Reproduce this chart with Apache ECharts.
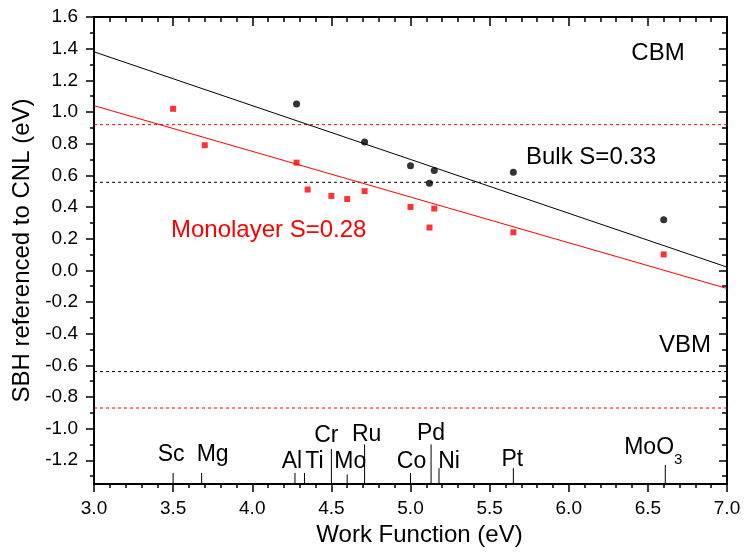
<!DOCTYPE html>
<html>
<head>
<meta charset="utf-8">
<script src="https://cdn.jsdelivr.net/npm/echarts@6/dist/echarts.min.js"></script>
<style>
  html, body { margin: 0; padding: 0; background: #fff; }
  #chart { width: 747px; height: 554px; }
</style>
</head>
<body>
<div id="chart"></div>
<script>
// Schottky barrier heights (eV, referenced to CNL) versus metal work function (eV)
const bulkWF  = [4.28, 4.71, 5.00, 5.12, 5.15, 5.65, 6.60];
const bulkSBH = [1.05, 0.81, 0.66, 0.55, 0.63, 0.62, 0.32];
const monoWF  = [3.50, 3.70, 4.28, 4.35, 4.50, 4.60, 4.71, 5.00, 5.12, 5.15, 5.65, 6.60];
const monoSBH = [1.02, 0.79, 0.68, 0.51, 0.47, 0.45, 0.50, 0.40, 0.27, 0.39, 0.24, 0.10];

// Linear fits, evaluated at both ends of the work-function axis
const fitWF   = [3.0, 7.0];
const bulkFit = [1.38, 0.02];
const monoFit = [1.04, -0.115];

// Band edges (CBM, VBM) relative to CNL
const bulkBands = [0.556, -0.64];
const monoBands = [0.92, -0.87];

// Contact metals marked along the work-function axis
const metalNames   = ['Sc', 'Mg', 'Al', 'Ti', 'Cr', 'Mo', 'Ru', 'Co', 'Pd', 'Ni', 'Pt', 'MoO3'];
const metalWF      = [3.50, 3.68, 4.27, 4.33, 4.50, 4.60, 4.71, 5.00, 5.13, 5.18, 5.65, 6.61];
const metalDropTop = [-1.28, -1.28, -1.28, -1.28, -1.13, -1.29, -1.10, -1.28, -1.10, -1.25, -1.25, -1.23];

// Axis ranges and tick values
const xMin = 3.0, xMax = 7.0, xStep = 0.5;
const yMin = -1.35, yMax = 1.6;
const yMajor = [-1.2, -1.0, -0.8, -0.6, -0.4, -0.2, 0.0, 0.2, 0.4, 0.6, 0.8, 1.0, 1.2, 1.4, 1.6];
const yMinor = [-1.3, -1.1, -0.9, -0.7, -0.5, -0.3, -0.1, 0.1, 0.3, 0.5, 0.7, 0.9, 1.1, 1.3, 1.5];

const FONT = '"Liberation Sans", Arial, Helvetica, sans-serif';
const BLACK = '#000000';
const RED = '#ff0000';

// pixel offsets of each metal label from the foot of its marker line
const metalLabelOffset = [
  [-2, -29], [11, -29], [-3, -22], [10, -22], [-5, -48], [3, -22],
  [2, -49], [1, -22], [0, -50], [10, -22], [-1, -24], [-12, -36]
];

const pairs = (xs, ys) => xs.map((x, i) => [x, ys[i]]);
const flat = (v) => [[xMin, v], [xMax, v]];

function lineSeries(data, color, dashed) {
  return {
    type: 'line', data: data, symbol: 'none', silent: true, animation: false,
    xAxisIndex: 0, yAxisIndex: 0,
    lineStyle: { color: color, width: 1, type: dashed ? [3, 3] : 'solid' },
    z: 2
  };
}

const frameLine = { show: true, onZero: false, lineStyle: { color: BLACK, width: 2 } };
const noLine = { show: false, onZero: false };

const chart = echarts.init(document.getElementById('chart'), null, { renderer: 'canvas' });

chart.setOption({
  backgroundColor: '#ffffff',
  animation: false,
  grid: {
    left: 94, right: 20, top: 17, bottom: 70, containLabel: false,
    show: true, borderColor: BLACK, borderWidth: 2, backgroundColor: 'transparent'
  },
  xAxis: [
    {
      type: 'value', position: 'bottom', min: xMin, max: xMax, interval: xStep,
      name: 'Work Function (eV)', nameLocation: 'middle', nameGap: 38,
      nameTextStyle: { fontFamily: FONT, fontSize: 24, color: BLACK, padding: [0, 0, 0, 18] },
      axisLine: frameLine,
      axisTick: { show: true, inside: false, length: 8, lineStyle: { color: BLACK, width: 1.5 } },
      minorTick: { show: true, splitNumber: 5, length: 4, lineStyle: { color: BLACK, width: 1.5 } },
      axisLabel: { fontFamily: FONT, fontSize: 19, color: BLACK, margin: 15,
                   formatter: (v) => v.toFixed(1) },
      splitLine: { show: false }, minorSplitLine: { show: false }
    },
    {
      type: 'value', position: 'top', min: xMin, max: xMax, interval: xStep,
      axisLine: frameLine,
      axisTick: { show: true, inside: true, length: 9, lineStyle: { color: BLACK, width: 1.5 } },
      minorTick: { show: true, splitNumber: 5, length: 5, lineStyle: { color: BLACK, width: 1.5 } },
      axisLabel: { show: false },
      splitLine: { show: false }
    }
  ],
  yAxis: [
    {
      type: 'value', position: 'left', min: yMin, max: yMax,
      name: 'SBH referenced to CNL (eV)', nameLocation: 'middle', nameGap: 56,
      nameTextStyle: { fontFamily: FONT, fontSize: 24, color: BLACK },
      axisLine: frameLine,
      axisTick: { show: true, inside: false, length: 8, customValues: yMajor,
                  lineStyle: { color: BLACK, width: 1.5 } },
      axisLabel: { fontFamily: FONT, fontSize: 19, color: BLACK, margin: 16,
                   customValues: yMajor, formatter: (v) => v.toFixed(1) },
      splitLine: { show: false }
    },
    {
      type: 'value', position: 'left', min: yMin, max: yMax,
      axisLine: noLine,
      axisTick: { show: true, inside: false, length: 4, customValues: yMinor,
                  lineStyle: { color: BLACK, width: 1.5 } },
      axisLabel: { show: false },
      splitLine: { show: false }
    },
    {
      type: 'value', position: 'right', min: yMin, max: yMax,
      axisLine: frameLine,
      axisTick: { show: true, inside: true, length: 8, customValues: yMajor,
                  lineStyle: { color: BLACK, width: 1.5 } },
      axisLabel: { show: false },
      splitLine: { show: false }
    },
    {
      type: 'value', position: 'right', min: yMin, max: yMax,
      axisLine: noLine,
      axisTick: { show: true, inside: true, length: 5, customValues: yMinor,
                  lineStyle: { color: BLACK, width: 1.5 } },
      axisLabel: { show: false },
      splitLine: { show: false }
    }
  ],
  series: [
    // band-edge levels
    lineSeries(flat(monoBands[0]), RED, true),
    lineSeries(flat(monoBands[1]), RED, true),
    lineSeries(flat(bulkBands[0]), BLACK, true),
    lineSeries(flat(bulkBands[1]), BLACK, true),
    // fitted lines
    lineSeries(pairs(fitWF, bulkFit), BLACK, false),
    lineSeries(pairs(fitWF, monoFit), RED, false),
    // measured barrier heights
    {
      type: 'scatter', name: 'Bulk', data: pairs(bulkWF, bulkSBH),
      symbol: 'circle', symbolSize: 7, itemStyle: { color: BLACK }, z: 5, silent: true
    },
    {
      type: 'scatter', name: 'Monolayer', data: pairs(monoWF, monoSBH),
      symbol: 'rect', symbolSize: 6, itemStyle: { color: RED }, z: 5, silent: true
    },
    // metal markers on the work-function axis
    {
      type: 'custom', clip: false, silent: true, z: 4,
      data: pairs(metalWF, metalDropTop),
      renderItem: function (params, api) {
        const i = params.dataIndex;
        const foot = api.coord([api.value(0), yMin]);
        const top = api.coord([api.value(0), api.value(1)]);
        const off = metalLabelOffset[i];
        const name = metalNames[i];
        const isOxide = name === 'MoO3';
        return {
          type: 'group',
          children: [
            {
              type: 'line',
              shape: { x1: foot[0], y1: foot[1], x2: top[0], y2: top[1] },
              style: { stroke: BLACK, lineWidth: 1 }
            },
            {
              type: 'text',
              x: foot[0] + off[0], y: foot[1] + off[1],
              style: isOxide ? {
                text: '{a|MoO}{s|3}',
                align: 'center', verticalAlign: 'middle',
                rich: {
                  a: { fontFamily: FONT, fontSize: 23, color: BLACK, lineHeight: 38 },
                  s: { fontFamily: FONT, fontSize: 15, color: BLACK, lineHeight: 15, verticalAlign: 'bottom' }
                }
              } : {
                text: name, align: 'center', verticalAlign: 'middle',
                font: '23px ' + FONT, fill: BLACK
              }
            }
          ]
        };
      }
    }
  ],
  graphic: [
    { type: 'text', x: 658, y: 53, silent: true,
      style: { text: 'CBM', align: 'center', verticalAlign: 'middle', font: '24px ' + FONT, fill: BLACK } },
    { type: 'text', x: 685, y: 345, silent: true,
      style: { text: 'VBM', align: 'center', verticalAlign: 'middle', font: '24px ' + FONT, fill: BLACK } },
    { type: 'text', x: 526, y: 157, silent: true,
      style: { text: 'Bulk S=0.33', align: 'left', verticalAlign: 'middle', font: '24px ' + FONT, fill: BLACK } },
    { type: 'text', x: 171, y: 230, silent: true,
      style: { text: 'Monolayer S=0.28', align: 'left', verticalAlign: 'middle', font: '24px ' + FONT, fill: RED } }
  ]
});
</script>
</body>
</html>
